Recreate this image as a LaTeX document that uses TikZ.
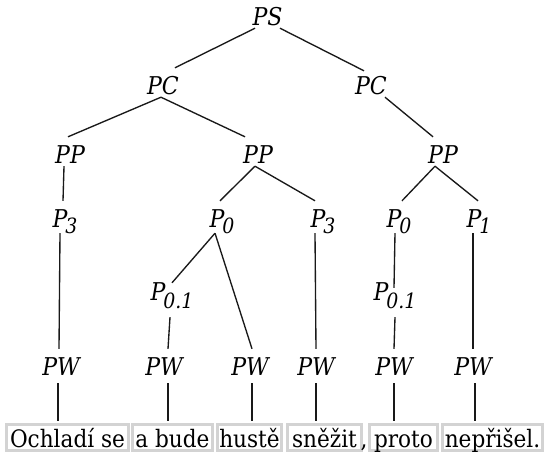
\documentclass[tikz,border=0pt]{standalone}
\usepackage{fontspec}
\setmainfont{DejaVu Serif}[FakeStretch=0.9]
\definecolor{boxgray}{RGB}{211,211,211}
\newcommand\mysub[2][6pt]{P\kern-2pt\raisebox{-#1}{\fontsize{21}{21}\selectfont #2}}
\tikzset{
  lbl/.style={anchor=base, inner sep=0pt, text height=26pt, text depth=3pt,
    font=\fontsize{24.5}{24.5}\selectfont\itshape},
  dsub/.style={text depth=6pt},
  dsubb/.style={text height=17pt, text depth=17pt},
  dpw/.style={text depth=8pt},
  wbox/.style={draw=boxgray, line width=3pt, inner sep=0pt, outer sep=0pt,
    minimum height=26pt, text height=20pt, text depth=0pt,
    font=\fontsize{24}{24}\selectfont},
  edge/.style={line width=1.35pt, black!90},
}
\begin{document}
\begin{tikzpicture}[x=1pt,y=-1pt]
\useasboundingbox (0,0) rectangle (544,459);
% tree nodes
\node[lbl] (ps) at (267.5,25) {PS};
\node[lbl] (pcl) at (163,94) {PC};
\node[lbl] (pcr) at (371,94) {PC};
\node[lbl] (ppl) at (70,163) {PP};
\node[lbl] (ppm) at (258,163) {PP};
\node[lbl] (ppr) at (443,163) {PP};
\node[lbl,dsub] (p3l) at (65,227) {\mysub{3}};
\node[lbl,dsub] (p0m) at (222,227) {\mysub{0}};
\node[lbl,dsub] (p3m) at (323,227) {\mysub{3}};
\node[lbl,dsub] (p0r) at (399,227) {\mysub{0}};
\node[lbl,dsub] (p1) at (479,227) {\mysub{1}};
\node[lbl,dsubb] (p01l) at (172,300) {\mysub[8pt]{0.1}};
\node[lbl,dsubb] (p01r) at (395,300) {\mysub[8pt]{0.1}};
\node[lbl,dpw] (pw1) at (61,375) {PW};
\node[lbl,dpw] (pw2) at (164,375) {PW};
\node[lbl,dpw] (pw3) at (250,375) {PW};
\node[lbl,dpw] (pw4) at (316,375) {PW};
\node[lbl,dpw] (pw5) at (394,375) {PW};
\node[lbl,dpw] (pw6) at (473,375) {PW};
% word boxes
\node[wbox, minimum width=122pt] (w1) at (67.5,437) {Ochladí se};
\node[wbox, minimum width=80pt] (w2) at (172.5,437) {a bude};
\node[wbox, minimum width=64pt] (w3) at (249.5,437) {hustě};
\node[wbox, minimum width=74pt] (w4) at (324.5,437) {sněžit};
\node[wbox, minimum width=68pt] (w5) at (403.5,437) {proto};
\node[wbox, minimum width=100pt] (w6) at (492.5,437) {nepřišel.};
\node[anchor=base west, inner sep=0pt, font=\fontsize{24}{24}\selectfont] (cm) at (360.5,447) {,};
% edges
\draw[edge] ([xshift=-12.5pt]ps.south) -- ([xshift=12pt]pcl.north);
\draw[edge] ([xshift=12.5pt]ps.south) -- ([xshift=-7pt,yshift=-3pt]pcr.north);
\draw[edge] ([xshift=-2pt]pcl.south) -- ([xshift=-2pt]ppl.north);
\draw[edge] ([xshift=-2pt]pcl.south) -- ([xshift=-13pt]ppm.north);
\draw[edge] ([xshift=14pt]pcr.south) -- ([xshift=-10pt]ppr.north);
\draw[edge] ([xshift=-6pt]ppl.south) -- ([xshift=-2pt]p3l.north);
\draw[edge] ([xshift=-3pt]ppm.south) -- ([xshift=-2pt]p0m.north);
\draw[edge] ([xshift=-3pt]ppm.south) -- ([xshift=-8pt]p3m.north);
\draw[edge] ([xshift=-8pt]ppr.south) -- ([xshift=3pt]p0r.north);
\draw[edge] ([xshift=-8pt]ppr.south) -- ([xshift=-1pt]p1.north);
\draw[edge] ([xshift=-5pt]p3l.south) -- ([xshift=-2pt]pw1.north);
\draw[edge] ([xshift=-7pt]p0m.south) -- (p01l.north);
\draw[edge] ([xshift=-7pt]p0m.south) -- ([xshift=2pt]pw3.north);
\draw[edge] ([xshift=-8pt]p3m.south) -- (pw4.north);
\draw[edge] ([xshift=-4pt]p0r.south) -- ([xshift=-1pt,yshift=-5pt]p01r.north);
\draw[edge] ([xshift=-6pt]p1.south) -- (pw6.north);
\draw[edge] ([xshift=-2pt]p01l.south) -- ([xshift=4pt]pw2.north);
\draw[edge] (p01r.south) -- (pw5.north);
% PW to words
\coordinate (b1) at ([xshift=-3pt]pw1.south);
\coordinate (b2) at ([xshift=4pt]pw2.south);
\coordinate (b3) at ([xshift=2pt]pw3.south);
\coordinate (b4) at (pw4.south);
\coordinate (b5) at (pw5.south);
\coordinate (b6) at ([xshift=2pt]pw6.south);
\foreach \i in {1,...,6}{
  \draw[edge, shorten >=3pt] (b\i) -- (b\i |- w\i.north);
}
\end{tikzpicture}
\end{document}
